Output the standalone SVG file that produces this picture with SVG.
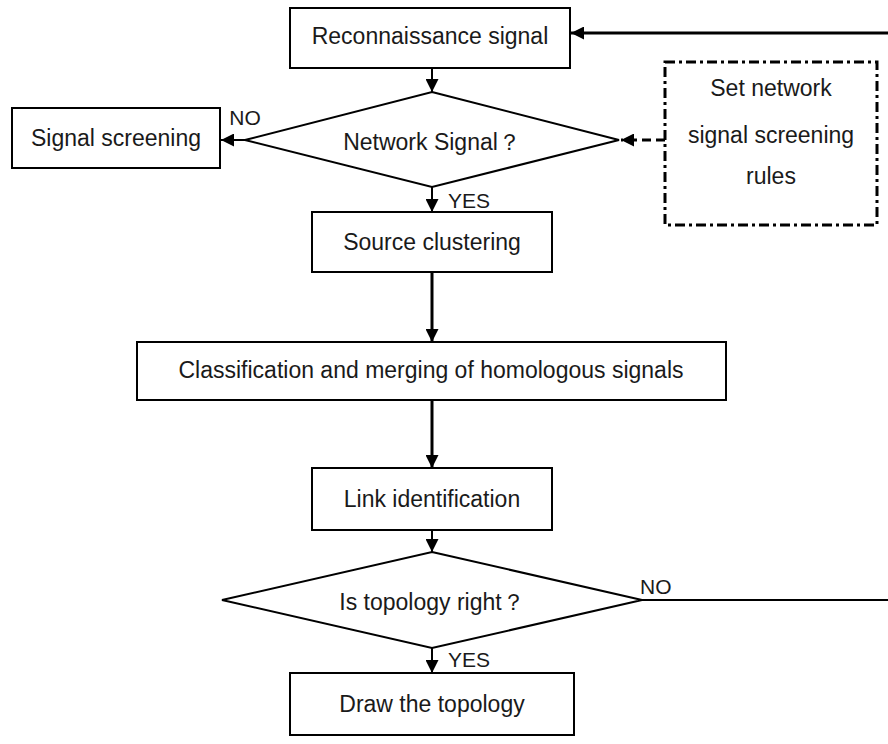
<svg xmlns="http://www.w3.org/2000/svg" width="888" height="744" viewBox="0 0 888 744">
<style>
.box{fill:#fff;stroke:#000;stroke-width:2}
.dash{fill:#fff;stroke:#000;stroke-width:3;stroke-dasharray:10 4 3 4}
.t{font-family:"Liberation Sans",Arial,sans-serif;font-size:23px;fill:#1a1a1a;text-anchor:middle;dominant-baseline:central}
.s{font-size:21px}
.l{text-anchor:start}
.ln{stroke:#000;stroke-width:2;fill:none}
.thick{stroke-width:3}
.dl{stroke-dasharray:9 5}
</style>
<defs>
<marker id="ah" viewBox="0 0 12 12" refX="12" refY="6" markerWidth="13" markerHeight="13" markerUnits="userSpaceOnUse" orient="auto"><path d="M0,0 L12,6 L0,12 z" fill="#000"/></marker>
</defs>
<g id="connectors">
<line class="ln thick" x1="888" y1="33" x2="571" y2="33" marker-end="url(#ah)"/>
<line class="ln" x1="432" y1="68" x2="432" y2="92" marker-end="url(#ah)"/>
<line class="ln" x1="245" y1="140" x2="221" y2="140" marker-end="url(#ah)"/>
<line class="ln thick dl" x1="665" y1="140" x2="621" y2="140" marker-end="url(#ah)"/>
<line class="ln" x1="432" y1="187" x2="432" y2="212" marker-end="url(#ah)"/>
<line class="ln thick" x1="432" y1="272" x2="432" y2="342" marker-end="url(#ah)"/>
<line class="ln thick" x1="432" y1="400" x2="432" y2="468" marker-end="url(#ah)"/>
<line class="ln" x1="432" y1="530" x2="432" y2="552" marker-end="url(#ah)"/>
<line class="ln" x1="642" y1="600" x2="888" y2="600"/>
<line class="ln" x1="432" y1="648" x2="432" y2="673" marker-end="url(#ah)"/>
<text class="t s" x="245" y="117">NO</text>
<text class="t s l" x="448" y="200">YES</text>
<text class="t s l" x="640" y="586">NO</text>
<text class="t s l" x="448" y="659">YES</text>
</g>
<g id="n1"><rect class="box" x="290" y="8" width="280" height="60"/><text class="t" x="430" y="36">Reconnaissance signal</text></g>
<g id="n2"><polygon class="box" points="432,92 619,140 432,187 245,140"/><text class="t" x="432" y="142">Network Signal？</text></g>
<g id="n3"><rect class="box" x="12" y="108" width="208" height="60"/><text class="t" x="116" y="138">Signal screening</text></g>
<g id="n4"><rect class="dash" x="665" y="62" width="212" height="163"/><text class="t" x="771" y="88">Set network</text><text class="t" x="771" y="135">signal screening</text><text class="t" x="771" y="176">rules</text></g>
<g id="n5"><rect class="box" x="312" y="212" width="240" height="60"/><text class="t" x="432" y="242">Source clustering</text></g>
<g id="n6"><rect class="box" x="137" y="342" width="589" height="58"/><text class="t" x="431" y="370">Classification and merging of homologous signals</text></g>
<g id="n7"><rect class="box" x="312" y="468" width="240" height="62"/><text class="t" x="432" y="499">Link identification</text></g>
<g id="n8"><polygon class="box" points="432,552 642,600 432,648 222,600"/><text class="t" x="432" y="602">Is topology right？</text></g>
<g id="n9"><rect class="box" x="290" y="673" width="284" height="62"/><text class="t" x="432" y="704">Draw the topology</text></g>
</svg>
